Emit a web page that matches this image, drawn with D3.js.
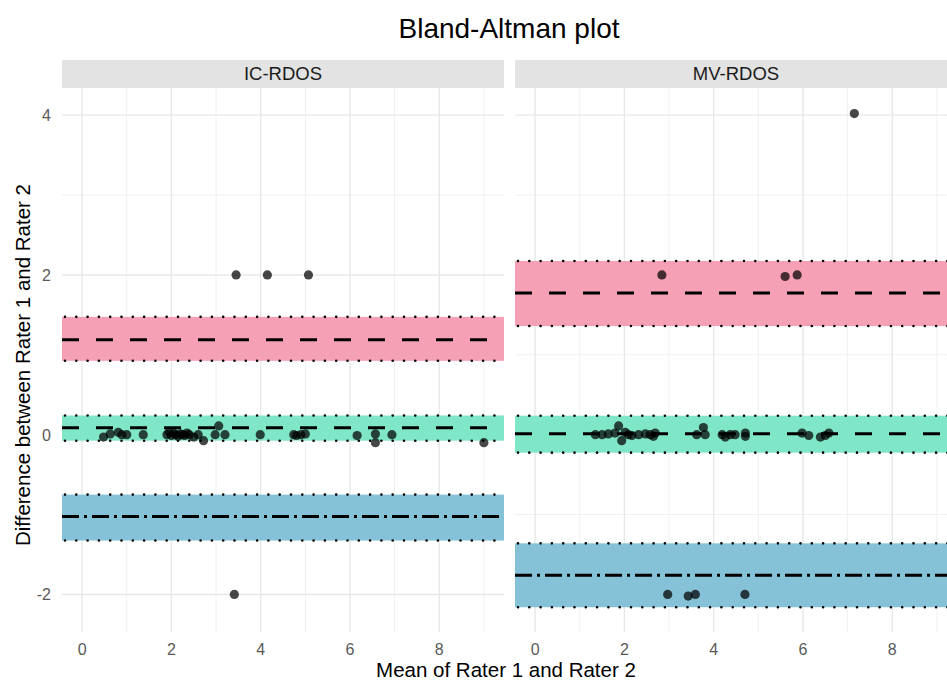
<!DOCTYPE html>
<html>
<head>
<meta charset="utf-8">
<script src="https://cdn.jsdelivr.net/npm/d3@7"></script>
<style>
  body { margin: 0; background: #fff; }
  text { font-family: "Liberation Sans", Arial, sans-serif; }
</style>
</head>
<body>
<svg id="chart" width="947" height="682"></svg>
<script>
// Bland-Altman plot, two facets

var panels = ["IC-RDOS", "MV-RDOS"];

// points, IC-RDOS
var icX = [0.48, 0.63, 0.81, 0.89, 1.0, 1.37, 1.9, 1.95, 2.0, 2.05, 2.1, 2.15, 2.2, 2.25, 2.3, 2.35, 2.4, 2.5, 2.6,
           2.72, 2.98, 3.06, 3.2, 3.99, 4.74, 4.8, 4.9, 5.0, 6.16, 6.57, 6.57, 6.94, 9.0,
           3.45, 4.15, 5.07, 3.41];
var icY = [-0.03, 0.01, 0.03, 0.0, 0.0, 0.0, 0.0, 0.03, -0.01, 0.02, 0.0, -0.02, 0.01, 0.0, -0.01, 0.02, 0.0, -0.03, 0.0,
           -0.075, 0.0, 0.11, 0.0, 0.0, 0.0, -0.01, 0.0, 0.01, -0.01, 0.01, -0.1, 0.0, -0.1,
           2.0, 2.0, 2.0, -2.0];

// points, MV-RDOS
var mvX = [1.35, 1.5, 1.64, 1.79, 1.87, 1.94, 2.02, 2.09, 2.17, 2.32, 2.47, 2.58, 2.65, 2.69,
           3.62, 3.77, 3.81, 4.19, 4.26, 4.37, 4.48, 4.71, 4.71, 5.98, 6.13, 6.39, 6.5, 6.58,
           7.15, 2.84, 5.6, 5.87, 2.97, 3.43, 3.59, 4.7];
var mvY = [0.0, 0.0, 0.01, 0.02, 0.11, -0.075, 0.03, 0.0, -0.01, 0.0, 0.01, 0.0, -0.02, 0.02,
           0.0, 0.09, 0.0, 0.0, -0.03, 0.0, 0.0, 0.02, -0.02, 0.02, -0.01, -0.03, -0.01, 0.02,
           4.02, 2.0, 1.98, 2.0, -2.0, -2.02, -2.0, -2.0];

// bands: upper LoA, bias, lower LoA  -> [lower CI, estimate, upper CI]
var bandNames = ["upper", "bias", "lower"];
var bandColors = ["#f5a0b4", "#80e6c8", "#85c2d8"];
var bandDash = ["17,17", "17,17", "17,5,3,5"];
var icBands = [[0.925, 1.19, 1.475], [-0.075, 0.0875, 0.24], [-1.325, -1.025, -0.75]];
var mvBands = [[1.36, 1.775, 2.175], [-0.225, 0.0125, 0.2375], [-2.16, -1.76, -1.36]];

var xTicks = [0, 2, 4, 6, 8];
var xMinor = [1, 3, 5, 7, 9];
var yTicks = [-2, 0, 2, 4];
var yMinor = [-1, 1, 3];

var svg = d3.select("#chart");

var panelW = 442, panelTop = 88, panelBottom = 632;
var panelLeft = [62, 515];
var stripTop = 60;

var y = d3.scaleLinear().domain([-2.47, 4.34]).range([panelBottom, panelTop]);

// title
svg.append("text")
    .attr("x", 509).attr("y", 38)
    .attr("text-anchor", "middle")
    .style("font-size", "28px")
    .text("Bland-Altman plot");

var pointsData = [d3.zip(icX, icY), d3.zip(mvX, mvY)];
var bandsData = [icBands, mvBands];

panels.forEach(function(name, i) {
    var x0 = panelLeft[i];
    var x = d3.scaleLinear().domain([-0.45, 9.45]).range([x0, x0 + panelW]);

    // strip
    svg.append("rect")
        .attr("x", x0).attr("y", stripTop)
        .attr("width", panelW).attr("height", panelTop - stripTop)
        .attr("fill", "#e3e3e3");
    svg.append("text")
        .attr("x", x0 + panelW / 2).attr("y", stripTop + 20)
        .attr("text-anchor", "middle")
        .style("font-size", "18.5px").attr("fill", "#1a1a1a")
        .text(name);

    svg.append("clipPath").attr("id", "clip" + i)
        .append("rect").attr("x", x0).attr("y", panelTop)
        .attr("width", panelW).attr("height", panelBottom - panelTop);

    var g = svg.append("g").attr("clip-path", "url(#clip" + i + ")");

    // grid
    g.selectAll(".vmin").data(xMinor).enter().append("line")
        .attr("x1", x).attr("x2", x).attr("y1", panelTop).attr("y2", panelBottom)
        .attr("stroke", "#f0f0f0").attr("stroke-width", 1);
    g.selectAll(".hmin").data(yMinor).enter().append("line")
        .attr("x1", x0).attr("x2", x0 + panelW).attr("y1", y).attr("y2", y)
        .attr("stroke", "#f0f0f0").attr("stroke-width", 1);
    g.selectAll(".vmaj").data(xTicks).enter().append("line")
        .attr("x1", x).attr("x2", x).attr("y1", panelTop).attr("y2", panelBottom)
        .attr("stroke", "#e8e8e8").attr("stroke-width", 1.4);
    g.selectAll(".hmaj").data(yTicks).enter().append("line")
        .attr("x1", x0).attr("x2", x0 + panelW).attr("y1", y).attr("y2", y)
        .attr("stroke", "#e8e8e8").attr("stroke-width", 1.4);

    // bands
    bandsData[i].forEach(function(b, k) {
        g.append("rect")
            .attr("x", x0).attr("width", panelW)
            .attr("y", y(b[2])).attr("height", y(b[0]) - y(b[2]))
            .attr("fill", bandColors[k]);
        [b[0], b[2]].forEach(function(v) {
            g.append("line")
                .attr("x1", x0 + 3).attr("x2", x0 + panelW).attr("y1", y(v)).attr("y2", y(v))
                .attr("stroke", "#000").attr("stroke-width", 2.6)
                .attr("stroke-linecap", "round")
                .attr("stroke-dasharray", "0,11.3");
        });
        g.append("line")
            .attr("x1", x0).attr("x2", x0 + panelW).attr("y1", y(b[1])).attr("y2", y(b[1]))
            .attr("stroke", "#000").attr("stroke-width", 3)
            .attr("stroke-dasharray", bandDash[k]);
    });

    // points
    g.selectAll("circle").data(pointsData[i]).enter().append("circle")
        .attr("cx", function(d) { return x(d[0]); })
        .attr("cy", function(d) { return y(d[1]); })
        .attr("r", 4.6)
        .attr("fill", "#000").attr("fill-opacity", 0.72);

    // x tick labels
    svg.selectAll(".xt" + i).data(xTicks).enter().append("text")
        .attr("x", x).attr("y", 655)
        .attr("text-anchor", "middle")
        .style("font-size", "16px").attr("fill", "#5a5a5a")
        .text(function(d) { return d; });
});

// y tick labels
svg.selectAll(".yt").data(yTicks).enter().append("text")
    .attr("x", 51).attr("y", function(d) { return y(d) + 6; })
    .attr("text-anchor", "end")
    .style("font-size", "16px").attr("fill", "#5a5a5a")
    .text(function(d) { return d; });

// axis titles
svg.append("text")
    .attr("x", 506).attr("y", 677)
    .attr("text-anchor", "middle")
    .style("font-size", "20.5px").attr("fill", "#000")
    .text("Mean of Rater 1 and Rater 2");

svg.append("text")
    .attr("transform", "translate(30,365) rotate(-90)")
    .attr("text-anchor", "middle")
    .style("font-size", "20.5px").attr("fill", "#000")
    .text("Difference between Rater 1 and Rater 2");
</script>
</body>
</html>
